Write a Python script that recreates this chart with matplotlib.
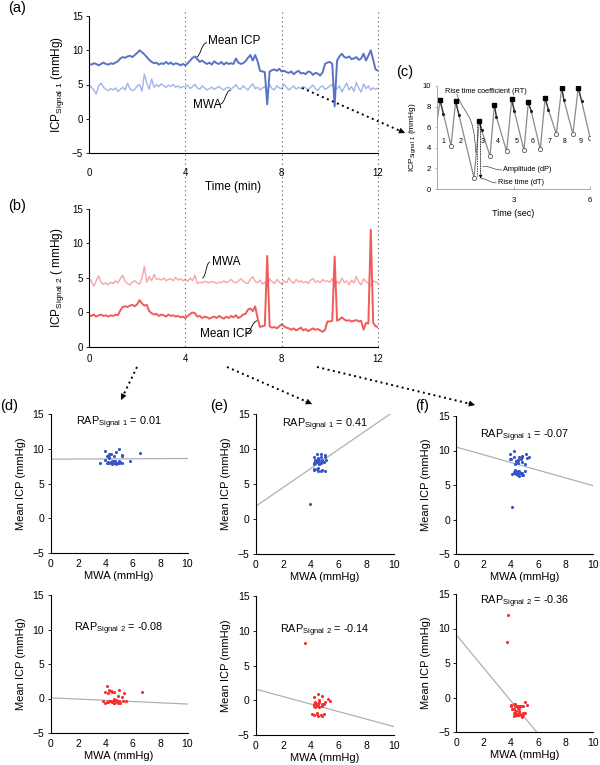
import numpy as np
import matplotlib
matplotlib.use("Agg")
import matplotlib.pyplot as plt
from matplotlib.path import Path
from matplotlib.patches import PathPatch, FancyArrowPatch
from matplotlib.lines import Line2D
import matplotlib.transforms as mtransforms

plt.rcParams['font.family'] = ['Liberation Sans', 'DejaVu Sans']
plt.rcParams['mathtext.default'] = 'regular'
plt.rcParams['axes.linewidth'] = 0.8

# ---------------- data ----------------
time_min = np.round(np.arange(121) * 0.1, 1)

icp1 = [8.0, 7.9, 8.1, 8.0, 7.8, 8.0, 8.2, 8.0, 7.9, 8.1,
        8.0, 8.2, 8.4, 8.8, 9.0, 8.9, 9.1, 9.2, 9.0, 9.3,
        9.6, 10.0, 9.7, 9.4, 9.0, 8.6, 8.3, 8.1, 8.2, 7.9,
        8.1, 8.0, 8.3, 8.0, 8.2, 7.9, 8.1, 8.0, 7.8, 8.0,
        7.8, 8.1, 8.5, 8.9, 9.1, 8.7, 8.3, 8.5, 8.2, 8.0,
        8.2, 7.9, 8.4, 8.1, 8.0, 8.3, 7.9, 8.2, 8.0, 8.1,
        8.0, 8.8, 8.2, 8.0, 8.1, 8.4, 8.9, 9.3, 8.5, 9.3,
        8.4, 7.0, 6.9, 6.8, 2.1, 6.9, 7.1, 7.2, 7.0, 7.3,
        6.9, 7.0, 6.8, 6.7, 6.9, 6.5, 6.8, 7.0, 6.6, 6.7,
        6.5, 6.9, 6.8, 6.4, 6.7, 6.6, 6.3, 6.8, 8.0, 8.2,
        8.3, 8.0, 1.8, 8.5, 9.1, 9.5, 9.0, 8.9, 9.1, 8.7,
        8.8, 9.0, 8.6, 8.8, 9.5, 8.5, 9.2, 10.0, 8.6, 7.2,
        7.0]

mwa1 = [5.0, 4.6, 4.2, 3.6, 4.8, 5.2, 4.6, 4.3, 4.1, 4.4,
        4.2, 4.5, 4.0, 4.3, 4.6, 4.2, 5.2, 4.4, 4.1, 4.3,
        4.8, 5.0, 4.0, 6.5, 5.2, 4.3, 5.8, 4.6, 5.0, 4.7,
        5.1, 4.8, 4.6, 4.9, 4.7, 5.0, 4.6, 4.8, 4.5, 4.7,
        4.6, 4.9, 4.4, 4.7, 5.0, 4.5, 4.3, 4.8, 4.5, 4.2,
        4.4, 4.6, 4.3, 4.5, 4.7, 4.4, 4.2, 4.5, 4.6, 4.3,
        4.6, 5.0, 4.4, 4.3, 4.8, 4.5, 4.2, 4.7, 5.1, 4.4,
        4.6, 4.2, 4.5, 4.7, 3.9, 5.0, 4.4, 4.2, 4.8, 4.5,
        4.4, 5.0, 4.6, 4.2, 4.5, 4.8, 4.3, 4.6, 4.4, 4.7,
        4.5, 4.2, 4.6, 4.9, 4.4, 4.1, 4.6, 4.8, 4.3, 4.5,
        4.8, 5.0, 4.1, 4.4, 4.8, 3.9, 4.6, 5.2, 4.2, 4.7,
        4.0, 5.3, 4.5, 3.9, 5.1, 4.4, 4.8, 4.2, 4.5, 4.3,
        4.5]

icp2 = [-0.4, -0.5, -0.3, -0.6, -0.4, -0.3, -0.5, -0.4, -0.6, -0.4,
        -0.5, -0.3, -0.4, 0.3, 0.8, 0.9, 0.8, 1.0, 1.1, 0.9,
        1.2, 1.8, 1.3, 1.0, 1.1, 0.2, -0.1, -0.3, -0.2, -0.5,
        -0.3, -0.4, -0.6, -0.3, -0.5, -0.4, -0.6, -0.5, -0.7, -0.6,
        -0.8, -0.5, -0.2, 0.0, -0.1, -0.6, -0.5, -0.8, -0.6, -0.7,
        -0.9, -0.7, -0.6, -0.8, -0.5, -0.7, -0.9, -0.6, -0.8, -0.5,
        -0.7, -0.4, -0.8, -0.6, -0.3, -0.2, 0.4, 0.6, 0.2, 0.9,
        -0.8, -2.1, -2.0, -1.9, 8.2, -2.0, -2.2, -2.1, -2.3, -2.0,
        -1.7, -2.0, -2.2, -2.3, -2.5, -2.3, -2.6, -2.4, -2.2, -2.6,
        -2.4, -2.7, -2.5, -2.3, -2.5, -2.4, -2.6, -2.8, -2.5, -1.3,
        -1.3, -1.2, 8.1, -1.2, -1.0, -0.7, -1.0, -1.2, -1.1, -1.3,
        -1.2, -1.1, -1.3, -1.2, -2.5, -1.5, -1.6, 12.0, -1.5, -2.0,
        -2.1]

mwa2 = [5.0, 4.5, 3.8, 4.6, 5.3, 4.4, 4.1, 4.3, 4.0, 4.4,
        4.2, 4.6, 4.3, 4.9, 5.4, 4.5, 4.2, 4.0, 4.4, 4.6,
        4.3, 4.1, 5.0, 6.7, 4.4, 5.2, 4.6, 5.5, 4.8, 4.9,
        4.7, 5.0, 4.6, 4.8, 4.9, 4.6, 5.1, 4.7, 4.9, 4.6,
        4.8, 4.5, 5.0, 4.6, 5.4, 4.2, 4.4, 4.3, 4.5, 4.4,
        4.3, 4.5, 4.4, 4.2, 4.4, 4.3, 4.6, 4.3, 4.5, 4.8,
        4.4, 4.3, 4.5, 4.9, 4.6, 4.3, 4.2, 4.8, 5.2, 4.5,
        4.3, 4.7, 4.1, 4.4, 3.6, 4.9, 4.5, 4.2, 4.8, 4.4,
        4.1, 4.6, 4.3, 5.0, 4.5, 4.2, 4.8, 4.4, 4.6, 4.3,
        4.5, 4.2, 4.7, 4.9, 4.4, 4.6, 4.3, 4.8, 4.5, 4.6,
        4.4, 4.9, 3.7, 4.5, 4.2, 5.0, 4.3, 4.6, 4.0, 4.7,
        4.3, 5.2, 4.4, 4.0, 4.9, 4.5, 4.2, 3.8, 4.6, 4.4,
        4.3]

window_edges = [0, 4, 8, 12]
fit_intercept_s1 = [8.5, 1.8, 10.5]
fit_slope_s1 = [0.01, 1.36, -0.56]
fit_intercept_s2 = [0.1, 1.6, 9.1]
fit_slope_s2 = [-0.09, -0.54, -2.4]
rap_s1 = ["0.01", "0.41", "-0.07"]
rap_s2 = ["-0.08", "-0.14", "-0.36"]
rap_y_s1 = [13.7, 13.4, 12.2]
rap_y_s2 = [10.1, 10.0, 13.8]

# panel (c) single-pulse waveform (seconds, mmHg)
wave_start = (0.0, 6.5)
peak_t = [0.12, 0.73, 1.66, 2.25, 2.93, 3.58, 4.24, 4.89, 5.54]
peak_v = [8.6, 8.5, 6.6, 8.2, 8.7, 8.4, 8.8, 9.85, 9.85]
sec_t = [0.25, 0.86, 1.75, 2.33, 3.03, 3.69, 4.37, 4.98, 5.67]
sec_v = [7.3, 7.2, 5.7, 7.0, 7.6, 7.6, 7.7, 8.6, 8.55]
trough_t = [0.55, 1.45, 2.08, 2.73, 3.41, 4.05, 4.68, 5.33, 6.0]
trough_v = [4.2, 1.1, 3.2, 3.65, 3.75, 3.85, 5.35, 5.35, 5.0]
beat_label_t = [0.25, 0.93, 1.79, 2.4, 3.11, 3.75, 4.4, 5.02, 5.65]

# ---------------- figure ----------------
W, H = 600, 765
fig = plt.figure(figsize=(W / 100, H / 100), dpi=100)

C_ICP1, C_MWA1 = '#5a72c6', '#a3b3e8'
C_ICP2, C_MWA2 = '#f25a5a', '#f6a6a6'
C_SC1, C_SC2 = '#3555c8', '#f53030'


def px_rect(x0, x1, ytop, ybot):
    return [x0 / W, 1 - ybot / H, (x1 - x0) / W, (ybot - ytop) / H]


def s_curve(ax, p0, p1, lw=0.6, color='k'):
    mx = (p0[0] + p1[0]) / 2
    path = Path([p0, (mx, p0[1]), (mx, p1[1]), p1],
                [Path.MOVETO, Path.CURVE4, Path.CURVE4, Path.CURVE4])
    ax.add_patch(PathPatch(path, fc='none', ec=color, lw=lw,
                           transform=ax.transData, clip_on=False))


def style_axes(ax, fs=7):
    for s in ('top', 'right'):
        ax.spines[s].set_visible(False)
    ax.tick_params(direction='out', length=2.5, width=0.6, labelsize=fs, pad=2)


# ---- (a) ----
ax_a = fig.add_axes(px_rect(89, 378, 16, 153))
ax_a.plot(time_min, mwa1, color=C_MWA1, lw=1.0)
ax_a.plot(time_min, icp1, color=C_ICP1, lw=1.4)
ax_a.set_xlim(0, 12)
ax_a.set_ylim(-5, 15)
ax_a.set_xticks([0, 4, 8, 12])
ax_a.set_yticks([-5, 0, 5, 10, 15])
style_axes(ax_a)
ax_a.tick_params(axis='x', length=0, pad=11)
ax_a.set_xlabel('Time (min)', fontsize=8.5, labelpad=2)
ax_a.set_ylabel('ICP$_{Signal\\ 1}$ (mmHg)', fontsize=8.5, labelpad=4)
ax_a.text(4.95, 11.35, 'Mean ICP', fontsize=8.5, ha='left', va='center')
s_curve(ax_a, (4.9, 11.1), (4.4, 8.9))
ax_a.text(4.3, 2.0, 'MWA', fontsize=8.5, ha='left', va='center')
s_curve(ax_a, (5.42, 2.1), (5.9, 4.2))

# ---- (b) ----
ax_b = fig.add_axes(px_rect(89, 378, 209, 347))
ax_b.plot(time_min, mwa2, color=C_MWA2, lw=1.0)
ax_b.plot(time_min, icp2, color=C_ICP2, lw=1.4)
ax_b.set_xlim(0, 12)
ax_b.set_ylim(-5, 15)
ax_b.set_xticks([0, 4, 8, 12])
ax_b.set_yticks([-5, 0, 5, 10, 15])
ax_b.set_yticklabels(['0', '0', '5', '10', '15'])
style_axes(ax_b)
ax_b.tick_params(axis='x', length=0, pad=5)
ax_b.set_ylabel('ICP$_{Signal\\ 2}$ ( mmHg)', fontsize=8.5, labelpad=4)
ax_b.text(5.1, 7.25, 'MWA', fontsize=8.5, ha='left', va='center')
s_curve(ax_b, (5.02, 7.3), (4.7, 5.0))
ax_b.text(4.6, -3.1, 'Mean ICP', fontsize=8.5, ha='left', va='center')
s_curve(ax_b, (6.5, -3.0), (7.0, -1.2))

# vertical dotted guides across (a) and (b)
trans = mtransforms.blended_transform_factory(ax_a.transData, fig.transFigure)
for xv in window_edges[1:]:
    fig.add_artist(Line2D([xv, xv], [1 - 12 / H, 1 - 347 / H], transform=trans,
                          color='#555555', lw=0.8, ls=(0, (1, 3))))

# ---- (c) ----
ax_c = fig.add_axes(px_rect(437, 590, 86, 189))
wt, wv = [wave_start[0]], [wave_start[1]]
for i in range(len(peak_t)):
    wt += [peak_t[i], sec_t[i], trough_t[i]]
    wv += [peak_v[i], sec_v[i], trough_v[i]]
ax_c.plot(wt, wv, color='#8a8a8a', lw=0.9)
for i in range(len(peak_t)):
    ax_c.plot([peak_t[i], sec_t[i]], [peak_v[i], sec_v[i]], color='#333333', lw=0.9)
ax_c.plot(peak_t, peak_v, 's', color='k', ms=2.8)
ax_c.plot(trough_t, trough_v, 'o', mfc='white', mec='#555555', ms=3, mew=0.6)
ax_c.plot(sec_t, sec_v, '.', color='#222222', ms=2.5)
for i, tb in enumerate(beat_label_t):
    ax_c.text(tb, 4.6, str(i + 1), fontsize=5, ha='center', va='center')
ax_c.set_xlim(0, 6)
ax_c.set_ylim(0, 10)
ax_c.set_xticks([3, 6])
ax_c.set_yticks([0, 2, 4, 6, 8, 10])
for s in ('top', 'right'):
    ax_c.spines[s].set_visible(False)
for s in ('left', 'bottom'):
    ax_c.spines[s].set_color('#9a9a9a')
    ax_c.spines[s].set_linewidth(0.6)
ax_c.tick_params(axis='y', direction='out', length=1.5, width=0.5, labelsize=5.5, pad=3, color='#9a9a9a')
ax_c.tick_params(axis='x', direction='in', length=2, width=0.5, labelsize=5.5, pad=6, color='#9a9a9a')
ax_c.set_xlabel('Time (sec)', fontsize=6.5, labelpad=3)
ax_c.set_ylabel('ICP$_{Signal\\ 1}$ (mmHg)', fontsize=6, labelpad=3)
ax_c.text(0.31, 9.45, 'Rise time coefficient (RT)', fontsize=5.3, ha='left', va='center')
ax_c.add_patch(PathPatch(Path([(0.78, 9.2), (1.1, 7.0), (1.45, 7.6), (1.52, 3.5)],
                              [Path.MOVETO, Path.CURVE4, Path.CURVE4, Path.CURVE4]),
                         fc='none', ec='#444444', lw=0.5))
ax_c.plot([1.58, 1.58], [6.3, 1.3], color='k', lw=0.5, ls=(0, (2, 1.5)))
ax_c.annotate('', xy=(1.71, 1.0), xytext=(1.71, 6.3),
              arrowprops=dict(arrowstyle='-|>', lw=0.5, ls=(0, (2, 1.5)), color='k',
                              mutation_scale=5, shrinkA=0, shrinkB=0))
ax_c.text(2.6, 1.85, 'Amplitude (dP)', fontsize=5.3, ha='left', va='center')
s_curve(ax_c, (2.55, 1.85), (1.8, 2.2), lw=0.5, color='#444444')
ax_c.text(2.38, 0.6, 'Rise time (dT)', fontsize=5.3, ha='left', va='center')
s_curve(ax_c, (2.33, 0.6), (1.72, 1.0), lw=0.5, color='#444444')

# ---- (d)(e)(f) scatter panels ----
top_rects = [px_rect(50.5, 187.5, 414, 553), px_rect(255.6, 394.2, 414, 554),
             px_rect(456.2, 593.2, 416, 554)]
bot_rects = [px_rect(50.5, 187.5, 595, 733), px_rect(255.6, 394.2, 596, 735),
             px_rect(456.2, 593.2, 594, 732)]
t_arr = np.asarray(time_min)
xs_line = np.array([0.0, 10.0])
for k in range(3):
    lo, hi = window_edges[k], window_edges[k + 1]
    m = (t_arr >= lo) & ((t_arr < hi) if k < 2 else (t_arr <= hi))
    for rect, mwa, icp, b0, b1, rap, ry, col, sig in [
            (top_rects[k], mwa1, icp1, fit_intercept_s1[k], fit_slope_s1[k], rap_s1[k], rap_y_s1[k], C_SC1, '1'),
            (bot_rects[k], mwa2, icp2, fit_intercept_s2[k], fit_slope_s2[k], rap_s2[k], rap_y_s2[k], C_SC2, '2')]:
        ax = fig.add_axes(rect)
        ax.plot(xs_line, b0 + b1 * xs_line, color='#b0b0b0', lw=0.9)
        ax.scatter(np.asarray(mwa)[m], np.asarray(icp)[m], s=5, color=col, linewidths=0, zorder=3)
        ax.set_xlim(0, 10)
        ax.set_ylim(-5, 15)
        ax.set_xticks([0, 2, 4, 6, 8, 10])
        ax.set_yticks([-5, 0, 5, 10, 15])
        style_axes(ax, fs=7.5)
        ax.tick_params(axis='x', length=0, pad=4)
        ax.set_xlabel('MWA (mmHg)', fontsize=8, labelpad=2)
        ax.set_ylabel('Mean ICP (mmHg)', fontsize=8, labelpad=5)
        ax.text(5.0, ry, 'RAP$_{Signal\\ ' + sig + '}$ = ' + rap, fontsize=7.8,
                ha='center', va='center')

# panel letters
for lab, x, y in [('(a)', 8, 8), ('(b)', 8, 206), ('(c)', 396, 72),
                  ('(d)', 0, 406), ('(e)', 210, 406), ('(f)', 415, 406)]:
    fig.text(x / W, 1 - y / H, lab, fontsize=10.5, ha='left', va='center')


# dotted arrows (figure pixel coordinates, y from top)
def dotted_arrow(p0, p1):
    x0, y0 = p0[0] / W, 1 - p0[1] / H
    x1, y1 = p1[0] / W, 1 - p1[1] / H
    fig.add_artist(Line2D([x0, x1], [y0, y1], transform=fig.transFigure,
                          color='k', lw=1.4, ls=(0, (1, 1.8))))
    d = np.array([p1[0] - p0[0], p1[1] - p0[1]], dtype=float)
    u = d / np.hypot(*d)
    pa = (p1[0] - 7 * u[0], p1[1] - 7 * u[1])
    fig.add_artist(FancyArrowPatch((pa[0] / W, 1 - pa[1] / H), (x1, y1),
                                   transform=fig.transFigure, arrowstyle='-|>',
                                   mutation_scale=9, color='k', lw=0.5,
                                   shrinkA=0, shrinkB=0))


dotted_arrow((302, 88), (405, 133))
dotted_arrow((137, 367), (121, 400))
dotted_arrow((227, 367), (312, 404))
dotted_arrow((317, 367), (475, 405))

fig.savefig('out.png', dpi=100)
